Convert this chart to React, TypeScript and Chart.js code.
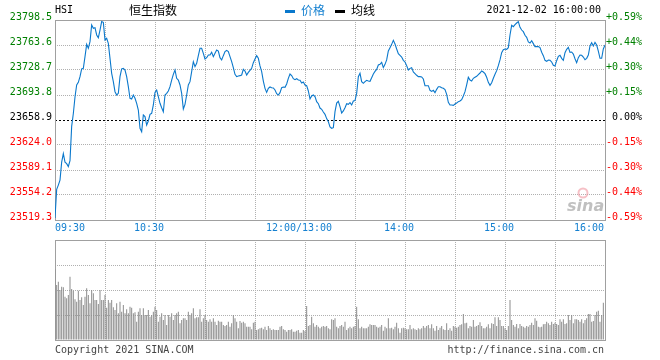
import React, { useEffect, useRef } from 'react';
import { Chart, registerables } from 'chart.js';

Chart.register(...registerables);

// ---- data ----
const PREV_CLOSE = 23658.9;
const priceTicks = [23519.3, 23554.2, 23589.1, 23624.0, 23658.9, 23693.8, 23728.7, 23763.6, 23798.5];
const percentTicks = ['-0.59%', '-0.44%', '-0.30%', '-0.15%', '0.00%', '+0.15%', '+0.30%', '+0.44%', '+0.59%'];
const timeTickMinutes = [0, 60, 150, 210, 270, 330];
const timeTickLabels = ['09:30', '10:30', '12:00/13:00', '14:00', '15:00', '16:00'];

// one value per trading minute from 09:30 (index 0) to 16:00 (index 330)
const prices = [
  23522, 23562, 23568, 23575, 23600, 23612, 23600, 23598, 23594, 23602,
  23650, 23668, 23691, 23707.8, 23711.5, 23719.4, 23730.1, 23731, 23747.3, 23764.5,
  23759, 23768.3, 23791.5, 23786.9, 23787.8, 23777.6, 23773.8, 23784.5, 23796.2, 23795.2,
  23770.6, 23772.9, 23765.9, 23745, 23724.1, 23712.4, 23698.4, 23693.8, 23696.1, 23719.4,
  23730.1, 23731, 23728.7, 23719.4, 23705.4, 23689.2, 23688.2, 23693.8, 23689.2, 23682.2,
  23672.8, 23647.3, 23642.6, 23665.9, 23663.6, 23651.9, 23657.5, 23666.8, 23668.2, 23679.9,
  23697.5, 23700.8, 23691.5, 23682.2, 23676.1, 23670.5, 23693.8, 23696.1, 23699.4, 23705.4,
  23714.7, 23722.6, 23728.7, 23717.1, 23714.7, 23707.8, 23696.1, 23674.3, 23680.8, 23693.8,
  23707.8, 23712.4, 23726.4, 23740.3, 23733.4, 23738, 23748.7, 23759, 23759, 23752,
  23744.1, 23745.9, 23749.6, 23749.6, 23753.4, 23747.3, 23752, 23756.6, 23755.2, 23745.9,
  23742.7, 23748.7, 23754.3, 23756.1, 23754.3, 23747.3, 23740.3, 23732, 23722.6, 23719.4,
  23720.3, 23720.8, 23721.7, 23729.6, 23727.3, 23721.7, 23725.4, 23728.2, 23731, 23738.9,
  23744.1, 23748.7, 23745, 23734.3, 23726.4, 23713.3, 23703.1, 23697.5, 23703.1, 23705,
  23704, 23703.6, 23700.8, 23695.7, 23693.8, 23697.1, 23704, 23705, 23704.5, 23709.2,
  23717.1, 23723.1, 23720.9, 23716.6, 23715.2, 23716.6, 23714.7, 23714.3, 23710.6, 23712,
  23707.8, 23706.8, 23699.4, 23688.2, 23692.4, 23693.8, 23691.5, 23684.5, 23681.7, 23675.6,
  23673.8, 23670.1, 23666.8, 23660.8, 23656.6, 23649.1, 23647.3, 23648.2, 23670.5, 23682.6,
  23685, 23677.5, 23668.7, 23671.5, 23676.1, 23681.7, 23680.8, 23683.1, 23679.9, 23685.4,
  23685.9, 23696.1, 23719.4, 23724.1, 23712.4, 23710.1, 23712.4, 23714.3, 23713.3, 23712.9,
  23718, 23723.1, 23726.8, 23729.6, 23735.7, 23736.6, 23739.4, 23732, 23736.6, 23742.7,
  23755.2, 23759.9, 23764.5, 23770.1, 23765, 23758, 23751.5, 23749.2, 23746.8, 23742.2,
  23739.9, 23734.8, 23728.7, 23731, 23732, 23725.9, 23723.6, 23721.3, 23719.4, 23719.4,
  23719, 23716.1, 23706.8, 23706.8, 23706.8, 23700.3, 23698.9, 23700.3, 23697.1, 23701.7,
  23705.4, 23705.4, 23704, 23703.1, 23701.3, 23694.7, 23683.6, 23679.9, 23679.9, 23679.4,
  23681.2, 23682.6, 23684.5, 23685.4, 23687.3, 23692.4, 23698.4, 23707.8, 23718.5, 23714.7,
  23713.3, 23717.1, 23718.5, 23719.9, 23722.2, 23724.5, 23727.3, 23725.9, 23723.6, 23718.5,
  23711.5, 23707.3, 23711, 23717.1, 23722.7, 23727.8, 23734.8, 23742.7, 23752.9, 23757.1,
  23758, 23757.6, 23759.9, 23777.6, 23791.1, 23789.2, 23792, 23794.3, 23796.2, 23788.3,
  23784.5, 23782.2, 23777.1, 23774.3, 23767.8, 23766.4, 23769.6, 23765.5, 23761.3, 23761.3,
  23761.3, 23759.9, 23753.4, 23748.7, 23742.2, 23740.8, 23742.7, 23742.2, 23739.9, 23735.2,
  23734.3, 23741.7, 23747.8, 23749.2, 23745, 23742.2, 23752.9, 23757.6, 23760.3, 23753.4,
  23753.8, 23751, 23744.5, 23739, 23745.9, 23749.6, 23749.2, 23746.8, 23743.1, 23745,
  23749.6, 23762.2, 23766.9, 23762.2, 23767.3, 23763.6, 23755.2, 23745, 23745, 23758,
  23763.6,
];

// relative volume per minute (axis top = 100)
const volumes = [
  70.7, 55, 58.3, 50, 53.3, 52.7, 43.3, 41.7, 45, 63.3,
  51, 49.3, 40.7, 38.3, 49.3, 40, 42.7, 35, 43.3, 51.7,
  45, 36.7, 50, 46.7, 40, 40, 36, 50, 40, 40,
  45, 32.3, 40, 37.3, 40, 32.7, 30, 36.7, 26.7, 38.3,
  28.3, 35, 26.7, 30.7, 26.7, 33.3, 32.3, 26.7, 27.7, 18.3,
  28.3, 31.7, 25, 31.7, 25, 25, 30, 23.3, 25, 28.3,
  33.3, 30, 18.3, 23.3, 26.7, 20, 25, 15, 25, 23.3,
  26.7, 20, 25, 26.7, 28.3, 16.7, 20, 21.7, 21.7, 20,
  28.3, 25, 26.7, 31.7, 21.7, 22.7, 22.7, 30.7, 18.3, 21.7,
  25, 20, 18.3, 20.7, 18.3, 21.7, 18.3, 15, 19.3, 18.3,
  18.3, 15, 14, 15, 18.3, 13.3, 16.7, 25, 21.7, 18.3,
  11.7, 19, 17.3, 18.3, 16.7, 13.3, 13.3, 13.3, 10.7, 17.3,
  18.3, 10, 10.7, 11.7, 12.3, 10.7, 13.3, 10, 14, 11.7,
  10, 10.7, 10, 10, 10, 13.3, 14, 10.7, 10, 8.3,
  10, 10, 10.7, 8.3, 8.3, 9.3, 10, 7.3, 7.3, 10,
  9, 34, 14, 15, 23.3, 16.7, 13.3, 15, 13.3, 11.7,
  13.3, 14, 13.3, 14, 11.7,
  10.7, 20.7, 20, 21.7, 13.3, 11.7, 14, 15, 13.3, 18.3,
  10, 11.7, 13.3, 11.7, 13.3, 14, 33.3, 20.7, 11.7, 13.3,
  11.7, 11.7, 11.7, 13.3, 15.7, 15, 15, 15, 13.3, 12.3,
  13.3, 15, 9.3, 13.3, 11.7, 21.7, 11.7, 12.3, 10.7, 13.3,
  17.3, 11.7, 7.3, 11.7, 12.3, 11.7, 10.7, 10.7, 15, 10.7,
  11.7, 10.7, 10, 11.7, 10.7, 11.7, 14, 12.3, 14, 15,
  11.7, 15.7, 11.7, 9.3, 14, 10, 12.3, 14, 10.7, 10,
  16.7, 10, 11.7, 9.3, 14, 13.3, 12.3, 13.3, 15, 15.7,
  26, 16.7, 17.3, 11.7, 14, 13.3, 20, 13.3, 14, 15,
  17.7, 14, 11.7, 11.7, 13.3, 15.7, 11.7, 16.7, 16, 22.7,
  14, 22.7, 20, 14, 14, 11.7, 10, 14, 40, 20,
  15, 13.3, 16, 11.7, 16, 14, 13.3, 12.3, 14, 13.3,
  15, 17.3, 15, 21.7, 19.3, 13.3, 12.7, 13.3, 15.7, 16,
  18.3, 16.7, 15, 18.3, 16, 17.3, 16, 15, 20.7, 18.3,
  20.7, 16, 16.7, 25, 20, 25, 16.7, 20.7, 20.7, 20,
  18.3, 20.7, 16.7, 20, 21.7, 26, 26, 18.3, 19, 25,
  28.3, 29.3, 18.3, 25, 37.3,
];

// ---- styles ----
const BLUE = '#0a78cc';
const LABEL_BLUE = '#1580d0';
const GRID = '#b0b0b0';
const FRAME = '#a0a0a0';
const GREEN = '#008000';
const RED = '#ff0000';
const MONO = '"DejaVu Sans Mono", "Liberation Mono", monospace';
const CJK = '"Noto Sans CJK SC", sans-serif';

const tickColor = (v: number) => (v > PREV_CLOSE + 0.01 ? GREEN : v < PREV_CLOSE - 0.01 ? RED : '#000000');

function drawFrame(chart: any) {
  const { ctx, chartArea: a } = chart;
  ctx.save();
  ctx.strokeStyle = FRAME;
  ctx.lineWidth = 1;
  ctx.setLineDash([]);
  ctx.strokeRect(Math.round(a.left) + 0.5, Math.round(a.top) + 0.5, Math.round(a.right - a.left), Math.round(a.bottom - a.top));
  ctx.restore();
}

const priceDecor = {
  id: 'priceDecor',
  beforeDatasetsDraw(chart: any) {
    const { ctx, chartArea: a } = chart;
    const y = Math.round(chart.scales.y.getPixelForValue(PREV_CLOSE)) + 0.5;
    ctx.save();
    ctx.strokeStyle = '#000';
    ctx.lineWidth = 1;
    ctx.setLineDash([2, 2]);
    ctx.beginPath();
    ctx.moveTo(a.left, y);
    ctx.lineTo(a.right, y);
    ctx.stroke();
    ctx.restore();
    drawFrame(chart);
  },
  afterDraw(chart: any) {
    const { ctx } = chart;
    const xs = chart.scales.x;
    ctx.save();
    // time labels
    ctx.font = `10px ${MONO}`;
    ctx.fillStyle = LABEL_BLUE;
    ctx.textBaseline = 'alphabetic';
    timeTickMinutes.forEach((m, i) => {
      const px = xs.getPixelForValue(m);
      if (i === 0) {
        ctx.textAlign = 'left';
        ctx.fillText(timeTickLabels[i], px, 231);
      } else if (i === timeTickMinutes.length - 1) {
        ctx.textAlign = 'right';
        ctx.fillText(timeTickLabels[i], px - 1, 231);
      } else {
        ctx.textAlign = 'center';
        ctx.fillText(timeTickLabels[i], px - 6, 231);
      }
    });
    // header
    ctx.fillStyle = '#000';
    ctx.textAlign = 'left';
    ctx.font = `10px ${MONO}`;
    ctx.fillText('HSI', 55, 13);
    ctx.textAlign = 'right';
    ctx.fillText('2021-12-02 16:00:00', 601, 13);
    ctx.font = `12px ${CJK}`;
    ctx.textBaseline = 'middle';
    ctx.textAlign = 'center';
    ctx.fillText('恒生指数', 153, 10);
    ctx.textAlign = 'left';
    ctx.fillStyle = BLUE;
    ctx.fillRect(285, 10, 10, 3);
    ctx.fillStyle = LABEL_BLUE;
    ctx.fillText('价格', 301, 10);
    ctx.fillStyle = '#000';
    ctx.fillRect(335, 10, 10, 3);
    ctx.fillText('均线', 351, 10);
    // watermark
    ctx.strokeStyle = 'rgba(240,150,160,0.6)';
    ctx.lineWidth = 2;
    ctx.beginPath();
    ctx.arc(583, 193, 4.5, 0, Math.PI * 2);
    ctx.stroke();
    ctx.fillStyle = 'rgba(150,150,150,0.6)';
    ctx.font = `italic bold 16px "DejaVu Sans", sans-serif`;
    ctx.textBaseline = 'alphabetic';
    ctx.fillText('sina', 567, 211);
    ctx.restore();
  },
};

const volumeDecor = {
  id: 'volumeDecor',
  beforeDatasetsDraw(chart: any) {
    drawFrame(chart);
  },
  afterDraw(chart: any) {
    const { ctx } = chart;
    ctx.save();
    ctx.font = `10px ${MONO}`;
    ctx.fillStyle = '#444';
    ctx.textBaseline = 'alphabetic';
    ctx.textAlign = 'left';
    ctx.fillText('Copyright 2021 SINA.COM', 55, 118);
    ctx.textAlign = 'right';
    ctx.fillText('http://finance.sina.com.cn', 604, 118);
    ctx.restore();
  },
};

export default function App() {
  const priceRef = useRef<HTMLCanvasElement>(null);
  const volRef = useRef<HTMLCanvasElement>(null);

  useEffect(() => {
    document.body.style.margin = '0';
    const setTicks = (s: any) => {
      s.ticks = priceTicks.map((v) => ({ value: v }));
    };
    const priceChart = new Chart(priceRef.current as HTMLCanvasElement, {
      type: 'line',
      data: {
        datasets: [
          {
            data: prices.map((p, i) => ({ x: i, y: p })),
            borderColor: BLUE,
            borderWidth: 1.1,
            pointRadius: 0,
            tension: 0,
            fill: false,
          },
        ],
      },
      options: {
        animation: false,
        responsive: false,
        devicePixelRatio: 1,
        events: [],
        layout: { padding: { left: 0, right: 18, top: 20, bottom: 0 } },
        plugins: { legend: { display: false }, tooltip: { enabled: false } },
        scales: {
          x: {
            type: 'linear',
            min: 0,
            max: 330,
            ticks: { display: false, stepSize: 30 },
            grid: { color: GRID, drawTicks: false, lineWidth: 1 },
            border: { display: false, dash: [1, 1] },
            afterFit: (s: any) => {
              s.height = 15;
            },
          },
          y: {
            type: 'linear',
            position: 'left',
            min: priceTicks[0],
            max: priceTicks[priceTicks.length - 1],
            afterBuildTicks: setTicks,
            ticks: {
              autoSkip: false,
              padding: 3,
              labelOffset: -3,
              font: { family: MONO, size: 10 },
              color: (c: any) => tickColor(c.tick.value),
              callback: (v: any) => Number(v).toFixed(1),
            },
            grid: {
              drawTicks: false,
              color: (c: any) => (c.tick && Math.abs(c.tick.value - PREV_CLOSE) < 0.01 ? 'rgba(0,0,0,0)' : GRID),
            },
            border: { display: false, dash: [1, 1] },
            afterFit: (s: any) => {
              s.width = 55;
            },
          },
          y2: {
            type: 'linear',
            position: 'right',
            min: priceTicks[0],
            max: priceTicks[priceTicks.length - 1],
            afterBuildTicks: setTicks,
            ticks: {
              autoSkip: false,
              padding: 0,
              labelOffset: -3,
              crossAlign: 'far',
              font: { family: MONO, size: 10 },
              color: (c: any) => tickColor(c.tick.value),
              callback: (_v: any, i: number) => percentTicks[i],
            },
            grid: { display: false, drawTicks: false },
            border: { display: false },
            afterFit: (s: any) => {
              s.width = 37;
            },
          },
        },
      } as any,
      plugins: [priceDecor],
    });

    const volChart = new Chart(volRef.current as HTMLCanvasElement, {
      type: 'bar',
      data: {
        datasets: [
          {
            data: volumes.map((v, i) => ({ x: i, y: v })),
            backgroundColor: '#8c8c8c',
            borderWidth: 0,
            barThickness: 1,
            inflateAmount: 0,
          },
        ],
      },
      options: {
        animation: false,
        responsive: false,
        devicePixelRatio: 1,
        events: [],
        layout: { padding: { left: 0, right: 55, top: 5, bottom: 0 } },
        plugins: { legend: { display: false }, tooltip: { enabled: false } },
        scales: {
          x: {
            type: 'linear',
            min: 0,
            max: 330,
            offset: false,
            ticks: { display: false, stepSize: 30 },
            grid: { color: GRID, drawTicks: false, offset: false },
            border: { display: false, dash: [1, 1] },
            afterFit: (s: any) => {
              s.height = 20;
            },
          },
          y: {
            type: 'linear',
            min: 0,
            max: 100,
            ticks: { display: false, stepSize: 25 },
            grid: { color: GRID, drawTicks: false },
            border: { display: false, dash: [1, 1] },
            afterFit: (s: any) => {
              s.width = 55;
            },
          },
        },
      } as any,
      plugins: [volumeDecor],
    });

    return () => {
      priceChart.destroy();
      volChart.destroy();
    };
  }, []);

  return (
    <div style={{ position: 'fixed', left: 0, top: 0, width: 660, height: 360, background: '#ffffff' }}>
      <canvas ref={priceRef} width={660} height={235} style={{ position: 'absolute', left: 0, top: 0, width: 660, height: 235 }} />
      <canvas ref={volRef} width={660} height={125} style={{ position: 'absolute', left: 0, top: 235, width: 660, height: 125 }} />
    </div>
  );
}
